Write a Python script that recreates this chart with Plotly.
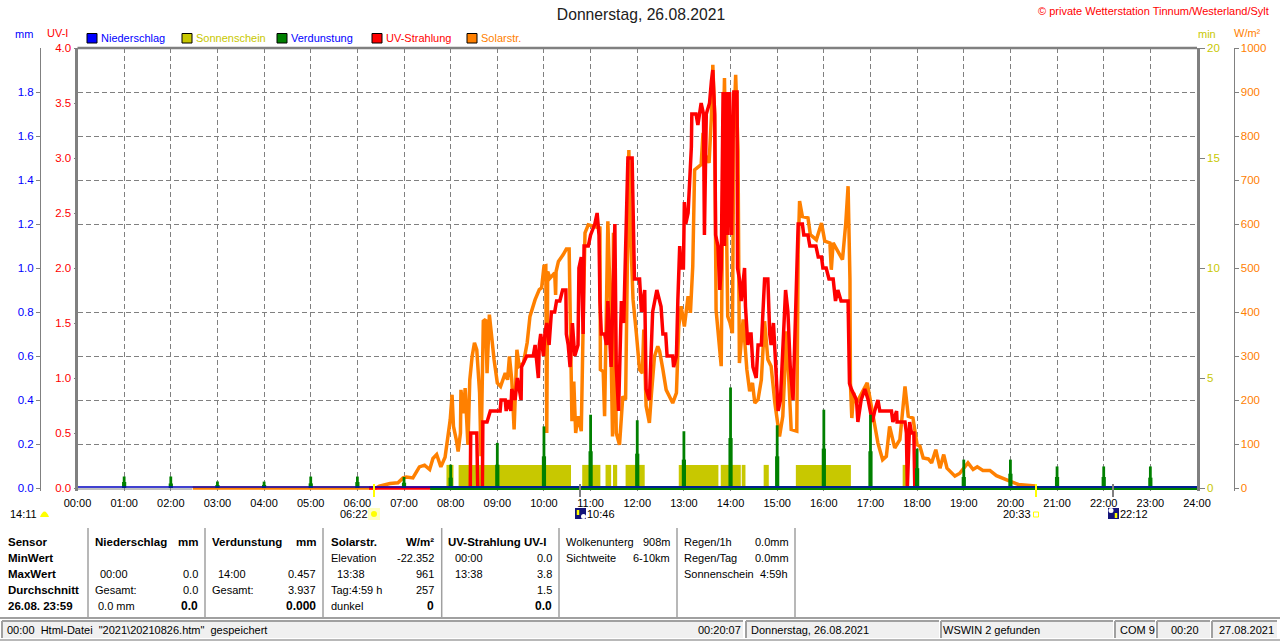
"""Weather station day chart (solar, UV, evaporation, sunshine) for 26.08.2021."""

import plotly.graph_objects as go

W, H = 1280, 641
PLOT_L, PLOT_R, PLOT_T, PLOT_B = 77.5, 1197, 48, 488
BELOW_ZERO = 3  # px kept under the zero line, plotly clips lines at the plot area

GRAY = "#808080"
BLUE = "#0000ff"
OLIVE = "#c8c800"
GREEN = "#008000"
RED = "#ff0000"
ORANGE = "#ff8000"
FONT = "Liberation Sans"

hour_ticks = list(range(25))
hour_labels = [f"{h:02d}:00" for h in hour_ticks]
mm_ticks = [0.0, 0.2, 0.4, 0.6, 0.8, 1.0, 1.2, 1.4, 1.6, 1.8]

rain_hours = [0, 24]
rain_mm = [0.004, 0.004]  # really 0.0, lifted a hair so it sits on top of the baseline

evap_base_hours = [7.56, 24]
evap_base_mm = [0, 0]
evap_hours = [1, 2, 3, 4, 5, 6, 7, 8, 9, 10, 11, 12, 13, 14, 15, 16, 17, 18, 19, 20, 21, 22, 23]
evap_peak = [0.052, 0.052, 0.029, 0.029, 0.052, 0.052, 0.05, 0.106, 0.205, 0.28, 0.333, 0.308,
             0.258, 0.457, 0.285, 0.356, 0.333, 0.179, 0.129, 0.129, 0.098, 0.098, 0.098]
evap_low = [0.027, 0.021, 0.014, 0.014, 0.021, 0.027, 0.024, 0.047, 0.106, 0.144, 0.167, 0.156,
            0.129, 0.227, 0.144, 0.179, 0.167, 0.09, 0.05, 0.065, 0.05, 0.05, 0.047]

sun_start = [7.91, 8.17, 10.82, 11.32, 11.48, 11.75, 12.89, 13.79, 14.24, 14.71, 15.40, 17.69]
sun_end = [8.06, 10.58, 11.21, 11.44, 11.57, 12.16, 13.74, 14.22, 14.32, 14.82, 16.58, 17.76]
sun_minutes = [1.05] * len(sun_start)

solar_hours = [
    2.47, 6.4, 6.47, 6.55, 6.7, 6.87, 6.98, 7.05, 7.19, 7.33, 7.44, 7.55, 7.62, 7.7, 7.79, 7.88,
    7.93, 7.99, 8.03, 8.06, 8.12, 8.16, 8.21, 8.22, 8.28, 8.31, 8.37, 8.41, 8.46, 8.51, 8.56,
    8.62, 8.65, 8.70, 8.75, 8.78, 8.83, 8.88, 8.93, 9.00, 9.07, 9.17, 9.22, 9.26, 9.31, 9.36,
    9.42, 9.47, 9.56, 9.64, 9.70, 9.81, 9.90, 9.95, 10.00, 10.04, 10.06, 10.08, 10.13, 10.23,
    10.25, 10.26, 10.31, 10.41, 10.48, 10.54, 10.57, 10.60, 10.64, 10.68, 10.73, 10.80, 10.85,
    10.88, 10.95, 11.20, 11.21, 11.27, 11.30, 11.37, 11.42, 11.47, 11.49, 11.55, 11.62, 11.69,
    11.75, 11.78, 11.82, 11.85, 11.91, 11.98, 12.05, 12.11, 12.14, 12.19, 12.26, 12.30, 12.37,
    12.44, 12.48, 12.55, 12.62, 12.76, 12.84, 12.89, 12.94, 13.01, 13.09, 13.14, 13.19, 13.23,
    13.37, 13.41, 13.44, 13.54, 13.59, 13.62, 13.66, 13.69, 13.75, 13.80, 13.84, 13.87, 13.94,
    13.99, 14.04, 14.07, 14.11, 14.16, 14.19, 14.27, 14.35, 14.41, 14.47, 14.52, 14.59, 14.66,
    14.73, 14.80, 14.87, 14.95, 15.05, 15.12, 15.20, 15.30, 15.42, 15.45, 15.48, 15.54, 15.66,
    15.71, 15.84, 15.95, 16.02, 16.13, 16.16, 16.20, 16.40, 16.47, 16.52, 16.56, 16.57, 16.60,
    16.64, 16.70, 16.93, 17.05, 17.16, 17.26, 17.34, 17.41, 17.52, 17.63, 17.74, 17.81, 17.91,
    18.00, 18.06, 18.13, 18.24, 18.31, 18.40, 18.49, 18.57, 18.64, 18.81, 18.91, 18.99, 19.09,
    19.20, 19.29, 19.41, 19.56, 19.70, 19.88, 20.00, 20.17, 20.52, 20.54,
]
solar_wm2 = [
    0, 0, 4, 6, 10, 12, 23, 25, 23, 48, 52, 42, 67, 76, 48, 70,
    116, 155, 212, 140, 110, 83, 125, 223, 170, 227, 98, 246, 299, 330, 314,
    216, 72, 379, 383, 261, 394, 337, 292, 239, 231, 261, 246, 299, 246, 133,
    314, 277, 284, 330, 390, 428, 451, 455, 504, 505, 125, 492, 477, 489,
    439, 492, 515, 530, 543, 543, 277, 152, 242, 125, 163, 129, 428,
    580, 598, 591, 269, 265, 163, 606, 428, 117, 580, 125, 98, 208,
    201, 428, 768, 600, 428, 352, 269, 261, 360, 186, 148, 208, 299,
    322, 311, 269, 223, 193, 216, 367, 413, 367, 436, 398, 504, 723,
    735, 807, 761, 739, 845, 962, 845, 405, 330, 277, 769, 932, 390,
    375, 352, 814, 939, 769, 284, 383, 269, 220, 239, 193, 201, 246,
    379, 292, 277, 193, 117, 163, 356, 133, 129, 542, 652, 617, 614,
    576, 564, 602, 561, 557, 496, 557, 519, 602, 686, 473, 239, 159,
    216, 193, 239, 163, 102, 64, 72, 140, 91, 110, 231, 163, 159,
    98, 95, 68, 66, 57, 87, 45, 76, 45, 27, 33, 45, 57,
    42, 48, 40, 40, 28, 19, 15, 8, 5, 0,
]

uv_hours = [
    6.25, 8.42, 8.43, 8.56, 8.58, 8.68, 8.69, 8.78, 8.85, 9.06, 9.08, 9.17, 9.19, 9.24, 9.29,
    9.31, 9.38, 9.43, 9.51, 9.52, 9.63, 9.77, 9.81, 9.88, 9.90, 9.93, 9.99, 10.02, 10.06, 10.11,
    10.16, 10.23, 10.27, 10.34, 10.40, 10.47, 10.48, 10.52, 10.56, 10.61, 10.66, 10.73, 10.75,
    10.80, 10.84, 10.86, 10.95, 11.00, 11.09, 11.14, 11.18, 11.20, 11.23, 11.30, 11.34, 11.37,
    11.44, 11.48, 11.52, 11.55, 11.60, 11.66, 11.71, 11.77, 11.80, 11.89, 11.94, 12.05, 12.09,
    12.16, 12.19, 12.26, 12.30, 12.33, 12.42, 12.48, 12.51, 12.55, 12.61, 12.64, 12.76, 12.78,
    12.84, 12.87, 12.91, 12.94, 12.99, 13.01, 13.04, 13.09, 13.16, 13.17, 13.26, 13.30, 13.37,
    13.42, 13.44, 13.48, 13.55, 13.59, 13.62, 13.66, 13.68, 13.73, 13.77, 13.80, 13.84, 13.87,
    13.91, 13.94, 13.98, 14.02, 14.07, 14.14, 14.15, 14.19, 14.23, 14.30, 14.32, 14.37, 14.41,
    14.44, 14.48, 14.55, 14.59, 14.66, 14.73, 14.80, 14.84, 14.87, 14.92, 14.97, 15.02, 15.07,
    15.12, 15.18, 15.23, 15.28, 15.34, 15.41, 15.45, 15.54, 15.57, 15.66, 15.70, 15.83, 15.88,
    15.95, 15.98, 16.05, 16.11, 16.20, 16.25, 16.30, 16.37, 16.52, 16.55, 16.59, 16.70, 16.73,
    16.80, 16.88, 16.95, 17.04, 17.09, 17.16, 17.20, 17.45, 17.48, 17.56, 17.57, 17.74, 17.77,
    17.79, 17.84, 17.88, 17.93, 17.95,
]
uv_index = [
    0, 0, 0.5, 0.5, 0, 0, 0.6, 0.6, 0.7, 0.7, 0.8, 0.8, 0.7, 0.8, 0.7,
    0.9, 0.8, 1.0, 0.8, 1.1, 1.2, 1.2, 1.3, 1.0, 1.3, 1.4, 1.2, 1.4, 1.5, 1.3,
    1.6, 1.6, 1.7, 1.7, 1.8, 1.8, 1.4, 1.3, 1.1, 1.5, 1.2, 1.3, 2.0,
    2.1, 1.4, 2.2, 2.2, 2.3, 2.4, 2.5, 2.3, 1.7, 1.4, 1.4, 1.3, 1.7,
    1.1, 1.7, 2.4, 1.1, 0.7, 1.7, 1.5, 2.5, 3.0, 3.0, 1.9, 1.9, 1.6,
    1.8, 0.9, 0.8, 1.3, 1.6, 1.8, 1.7, 1.65, 1.4, 1.4, 1.2, 1.2, 1.1,
    1.2, 1.7, 2.2, 2.0, 2.0, 2.6, 2.4, 2.5, 3.1, 3.4, 3.4, 3.3, 3.5,
    3.4, 2.3, 3.4, 3.5, 3.7, 3.8, 3.4, 2.3, 2.2, 1.8, 2.0, 3.6, 2.2,
    3.6, 2.3, 3.6, 2.3, 3.6, 3.6, 2.0, 1.9, 1.7, 2.0, 1.65, 1.3, 1.4,
    1.4, 1.1, 1.0, 1.3, 1.3, 1.9, 1.9, 1.4, 1.3, 1.5, 1.1, 0.7, 0.8,
    1.3, 1.8, 1.6, 1.1, 0.8, 2.0, 2.4, 2.4, 2.3, 2.3, 2.2, 2.2, 2.1,
    2.1, 2.0, 2.0, 1.9, 1.9, 1.7, 1.8, 1.7, 1.7, 0.95, 0.9, 0.8, 0.6,
    0.8, 0.9, 0.8, 0.6, 0.7, 0.8, 0.7, 0.7, 0.6, 0.7, 0.6, 0.6, 0.5,
    0, 0.6, 0.5, 0.5, 0,
]


def fx(x):
    return x / W


def fy(y):
    return 1 - y / H


def axis_range(top):
    """Range for an axis that ends at top, with its zero BELOW_ZERO px above the domain edge."""
    return [-top * BELOW_ZERO / (PLOT_B - PLOT_T), top]


shapes = []
annotations = []


def text(x, y, s, color="black", size=11, anchor="left", bold=False):
    annotations.append(dict(
        x=fx(x), y=fy(y), xref="paper", yref="paper", text=f"<b>{s}</b>" if bold else s,
        showarrow=False, xanchor=anchor, yanchor="middle", borderpad=0, borderwidth=0,
        font=dict(family=FONT, size=size, color=color),
    ))


def line(x0, y0, x1, y1, color=GRAY, width=1, layer="above"):
    shapes.append(dict(
        type="line", xref="paper", yref="paper", x0=fx(x0), y0=fy(y0), x1=fx(x1), y1=fy(y1),
        line=dict(color=color, width=width), layer=layer,
    ))


def box(x0, y0, x1, y1, fill, edge=None, width=1, kind="rect"):
    shapes.append(dict(
        type=kind, xref="paper", yref="paper", x0=fx(x0), y0=fy(y0), x1=fx(x1), y1=fy(y1),
        fillcolor=fill, line=dict(color=edge or fill, width=width if edge else 0), layer="above",
    ))


fig = go.Figure()

# overlaid axes stack in id order: sunshine, solar, UV, then evaporation on top
fig.add_trace(go.Bar(
    x=[(s + e) / 2 for s, e in zip(sun_start, sun_end)],
    y=sun_minutes,
    width=[e - s for s, e in zip(sun_start, sun_end)],
    marker=dict(color=OLIVE, line=dict(width=0)),
    yaxis="y",
))
fig.add_trace(go.Scatter(
    x=solar_hours, y=solar_wm2, mode="lines", yaxis="y2",
    line=dict(color=ORANGE, width=3.5),
))
fig.add_trace(go.Scatter(
    x=uv_hours, y=uv_index, mode="lines", yaxis="y3",
    line=dict(color=RED, width=3.5),
))
fig.add_trace(go.Bar(
    x=evap_hours, y=evap_low, width=0.09, yaxis="y4",
    marker=dict(color=GREEN, line=dict(width=0)),
))
fig.add_trace(go.Bar(
    x=evap_hours, y=evap_peak, width=0.06, yaxis="y4",
    marker=dict(color=GREEN, line=dict(width=0)),
))
fig.add_trace(go.Scatter(
    x=evap_base_hours, y=evap_base_mm, mode="lines", yaxis="y4",
    line=dict(color=GREEN, width=4),
))
fig.add_trace(go.Scatter(
    x=rain_hours, y=rain_mm, mode="lines", yaxis="y4",
    line=dict(color="#0000c0", width=1.5),
))

# frame top, the sides come from the min axis
line(PLOT_L, PLOT_T, PLOT_R, PLOT_T, width=2.5)
line(PLOT_L, PLOT_B + 1, 192, PLOT_B + 1, width=1, layer="above")

# header
text(15, 34, "mm", BLUE)
text(47, 33, "UV-I", RED)
text(1198, 34, "min", OLIVE)
text(1234, 33, "W/m²", ORANGE)
text(1269, 11, "© private Wetterstation Tinnum/Westerland/Sylt", RED, size=11, anchor="right")

legend_items = [
    (87, "Niederschlag", BLUE, BLUE),
    (182, "Sonnenschein", OLIVE, OLIVE),
    (277, "Verdunstung", GREEN, BLUE),
    (372, "UV-Strahlung", RED, RED),
    (467, "Solarstr.", ORANGE, ORANGE),
]
for left, label, fill, ink in legend_items:
    box(left, 33.5, left + 10, 43, fill, "black", 1)
    text(left + 14, 38, label, ink)

# sun and moon marks under the axis
line(374, 484, 374, 497, "#ffff00", 2)
line(1036, 484, 1036, 497, "#ffff00", 2)
line(580, 484, 580, 497, GRAY, 2)
line(1113, 484, 1113, 497, GRAY, 2)
text(10, 514, "14:11", size=11)
shapes.append(dict(
    type="path", xref="paper", yref="paper", layer="above",
    path=f"M {fx(40)} {fy(517)} Q {fx(44.5)} {fy(506)} {fx(49)} {fy(517)} Z",
    fillcolor="#ffff00", line=dict(width=0),
))
text(340, 514, "06:22", size=11)
box(368, 508, 380, 520, "#ffffc0")
box(371, 511, 377, 517, "#ffff00", kind="circle")
text(1003, 514, "20:33", size=11)
box(1033.5, 512, 1038.5, 517, "white", "#ffff00", 1)
box(575, 508, 586, 519, "#14147a")
line(578, 510, 578, 515, "#ffff00", 2.5)
box(581, 514, 586, 519, "white", kind="circle")
text(587, 514, "10:46", size=11)
box(1108, 508, 1119, 519, "#14147a")
line(1116, 513, 1116, 518, "#ffff00", 2.5)
box(1108.5, 508, 1113.5, 513, "white", kind="circle")
text(1120, 514, "22:12", size=11)

# table dividers
for div_x in [88, 205, 323, 441.7, 559, 677, 795]:
    line(div_x, 528, div_x, 617, "#a0a0a0", 1.5)
line(0, 618, W, 618, "#a0a0a0", 2)

ROWS = [542, 558, 574, 590, 606]
for row, label in zip(ROWS, ["Sensor", "MinWert", "MaxWert", "Durchschnitt", "26.08. 23:59"]):
    text(8, row, label, size=11.5, bold=True)

text(94.7, ROWS[0], "Niederschlag", size=11.5, bold=True)
text(198, ROWS[0], "mm", size=11.5, bold=True, anchor="right")
text(100, ROWS[2], "00:00")
text(198, ROWS[2], "0.0", anchor="right")
text(94.7, ROWS[3], "Gesamt:")
text(198, ROWS[3], "0.0", anchor="right")
text(97.6, ROWS[4], "0.0 mm")
text(198, ROWS[4], "0.0", size=12, bold=True, anchor="right")

text(212, ROWS[0], "Verdunstung", size=11.5, bold=True)
text(316, ROWS[0], "mm", size=11.5, bold=True, anchor="right")
text(218, ROWS[2], "14:00")
text(316, ROWS[2], "0.457", anchor="right")
text(212, ROWS[3], "Gesamt:")
text(316, ROWS[3], "3.937", anchor="right")
text(316, ROWS[4], "0.000", size=12, bold=True, anchor="right")

text(330.6, ROWS[0], "Solarstr.", size=11.5, bold=True)
text(434.3, ROWS[0], "W/m²", size=11.5, bold=True, anchor="right")
text(330.6, ROWS[1], "Elevation")
text(434.3, ROWS[1], "-22.352", anchor="right")
text(336.5, ROWS[2], "13:38")
text(434.3, ROWS[2], "961", anchor="right")
text(330.6, ROWS[3], "Tag:4:59 h")
text(434.3, ROWS[3], "257", anchor="right")
text(330.6, ROWS[4], "dunkel")
text(434.3, ROWS[4], "0", size=12, bold=True, anchor="right")

text(448.3, ROWS[0], "UV-Strahlung UV-I", size=11.5, bold=True)
text(454.6, ROWS[1], "00:00")
text(552, ROWS[1], "0.0", anchor="right")
text(454.6, ROWS[2], "13:38")
text(552, ROWS[2], "3.8", anchor="right")
text(552, ROWS[3], "1.5", anchor="right")
text(552, ROWS[4], "0.0", size=12, bold=True, anchor="right")

text(566, ROWS[0], "Wolkenunterg")
text(671, ROWS[0], "908m", anchor="right")
text(566, ROWS[1], "Sichtweite")
text(670, ROWS[1], "6-10km", anchor="right")

text(684.3, ROWS[0], "Regen/1h")
text(789, ROWS[0], "0.0mm", anchor="right")
text(684.3, ROWS[1], "Regen/Tag")
text(789, ROWS[1], "0.0mm", anchor="right")
text(684.3, ROWS[2], "Sonnenschein")
text(788, ROWS[2], "4:59h", anchor="right")

# status bar
for left, right in [(2, 743), (746, 939), (941, 1113), (1115, 1155), (1157, 1210), (1212, 1277)]:
    box(left, 621, right, 638, "#f0f0f0")
    line(left, 621, right, 621, "#a0a0a0", 2)
    line(left, 621, left, 638, "#a0a0a0", 2)
line(0, 640, W, 640, "#a0a0a0", 1.5)

STATUS_Y = 630
text(7, STATUS_Y, '00:00\u00a0\u00a0Html-Datei\u00a0\u00a0"2021\\20210826.htm"\u00a0\u00a0gespeichert')
text(741, STATUS_Y, "00:20:07", anchor="right")
text(750.6, STATUS_Y, "Donnerstag, 26.08.2021")
text(943, STATUS_Y, "WSWIN 2 gefunden")
text(1120, STATUS_Y, "COM 9")
text(1170.7, STATUS_Y, "00:20")
text(1218.7, STATUS_Y, "27.08.2021")

grid_style = dict(gridcolor=GRAY, gridwidth=1, griddash="5px,3px")
y_domain = [fy(PLOT_B + BELOW_ZERO), fy(PLOT_T)]

fig.update_layout(
    width=W,
    height=H,
    autosize=False,
    margin=dict(l=0, r=0, t=0, b=0),
    paper_bgcolor="white",
    plot_bgcolor="white",
    showlegend=False,
    barmode="overlay",
    font=dict(family=FONT, size=11, color="black"),
    title=dict(
        text="Donnerstag, 26.08.2021", x=fx(641), y=fy(15), xanchor="center", yanchor="middle",
        font=dict(family=FONT, size=15.7, color="#202020"),
    ),
    xaxis=dict(
        automargin=False,
        domain=[fx(PLOT_L), fx(PLOT_R)],
        range=[0, 24],
        tickvals=hour_ticks,
        ticktext=hour_labels,
        ticks="outside",
        ticklen=2,
        tickcolor="rgba(0,0,0,0)",
        tickfont=dict(family=FONT, size=11, color="black"),
        showgrid=True,
        zeroline=False,
        showline=False,
        **grid_style,
    ),
    yaxis=dict(
        automargin=False,
        domain=y_domain,
        range=axis_range(20),
        side="right",
        tick0=0,
        dtick=5,
        tickformat="d",
        ticks="outside",
        ticklen=5,
        tickcolor=GRAY,
        tickfont=dict(family=FONT, size=11.5, color=OLIVE),
        showgrid=False,
        zeroline=False,
        showline=True,
        mirror=True,
        linecolor=GRAY,
        linewidth=2.5,
        minor=dict(dtick=2, tick0=0, showgrid=True, ticks="", **grid_style),
    ),
    yaxis2=dict(
        automargin=False,
        domain=y_domain,
        range=axis_range(1000),
        overlaying="y",
        anchor="free",
        side="right",
        position=fx(1233.5),
        tick0=0,
        dtick=100,
        ticks="outside",
        ticklen=4,
        tickcolor=GRAY,
        tickfont=dict(family=FONT, size=11.5, color=ORANGE),
        showgrid=False,
        zeroline=False,
        showline=True,
        linecolor=GRAY,
        linewidth=1,
    ),
    yaxis3=dict(
        automargin=False,
        domain=y_domain,
        range=axis_range(4),
        overlaying="y",
        anchor="free",
        side="left",
        position=fx(PLOT_L),
        tick0=0,
        dtick=0.5,
        tickformat=".1f",
        ticks="outside",
        ticklen=4,
        tickcolor=GRAY,
        tickfont=dict(family=FONT, size=11.5, color=RED),
        showgrid=False,
        zeroline=False,
        showline=False,
    ),
    yaxis4=dict(
        automargin=False,
        domain=y_domain,
        range=axis_range(2),
        overlaying="y",
        anchor="free",
        side="left",
        position=fx(40),
        tickvals=mm_ticks,
        tickformat=".1f",
        ticks="outside",
        ticklen=4,
        tickcolor=GRAY,
        tickfont=dict(family=FONT, size=11.5, color=BLUE),
        showgrid=False,
        zeroline=False,
        showline=True,
        linecolor=GRAY,
        linewidth=1,
    ),
    shapes=shapes,
    annotations=annotations,
)

fig.write_html(
    "out.html",
    config=dict(displayModeBar=False),
    post_script="document.body.style.margin='0';document.body.style.overflow='hidden';",
)
